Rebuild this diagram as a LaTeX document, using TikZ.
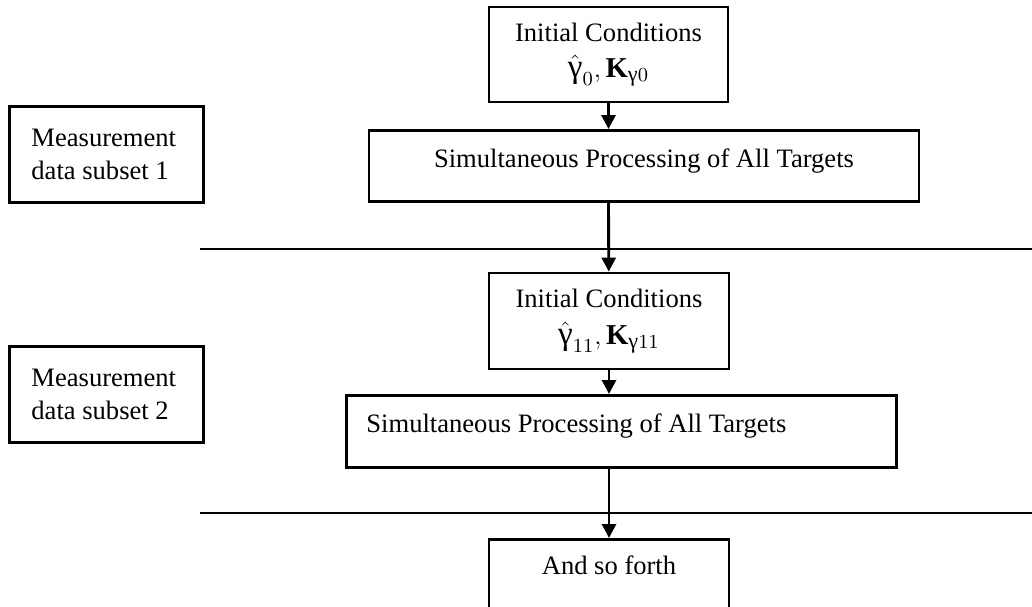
\documentclass[tikz,border=0pt]{standalone}
\usepackage{fontspec}
\setmainfont{Liberation Serif}
\usetikzlibrary{arrows.meta}

\newcommand\gam[1]{\mbox{\fontsize{#1}{#1}\selectfont γ}}

\tikzset{
  box/.style={draw, line width=1.3pt, inner sep=0pt, align=center},
  flow/.style={line width=1.3pt, -{Triangle[length=6.3pt,width=6.3pt]}},
  split/.style={line width=1.3pt}
}

\begin{document}
\begin{tikzpicture}[x=0.4515pt, y=-0.4515pt, font=\fontsize{12}{14.5}\selectfont]

  \newcommand\U{0.4515pt}

  \useasboundingbox (0,0) rectangle (1032,607);
  \clip (0,0) rectangle (1032,607);

  % measurement subsets on the left
  \node[box, minimum width=194*\U, minimum height=96*\U, align=flush left,
        text width=150*\U, inner xsep=22*\U, anchor=north west] (meas1) at (8,105)
        {Measurement\\data subset 1};
  \node[box, minimum width=193*\U, minimum height=96*\U, align=flush left,
        text width=150*\U, inner xsep=22*\U, anchor=north west] (meas2) at (8,345)
        {Measurement\\data subset 2};

  % first stage
  \node[box, minimum width=239*\U, minimum height=95*\U] (init1) at (608.5,54.5)
        {Initial Conditions\\[2pt]
         {\fontsize{13}{15}\selectfont$\hat{\gam{15}}_0,\mathbf{K}_{\gam{10}0}$}};
  \node[box, minimum width=550*\U, minimum height=71*\U] (proc1) at (644,166)
        {Simultaneous Processing of All Targets\\[-7.3pt]\mbox{}};

  % second stage
  \node[box, minimum width=240*\U, minimum height=96*\U] (init2) at (609,321)
        {Initial Conditions\\[2pt]
         {\fontsize{13}{15}\selectfont$\hat{\gam{15}}_{11},\mathbf{K}_{\gam{10}11}$}};
  \node[box, minimum width=550*\U, minimum height=72*\U, align=flush left,
        text width=510*\U, inner xsep=20*\U, anchor=north west] (proc2) at (345,394)
        {Simultaneous Processing of All Targets\\[-7.3pt]\mbox{}};

  % third stage, cut off below
  \node[box, minimum width=240*\U, minimum height=140*\U, anchor=north] (next) at (609,538)
        {};
  \node at (609,565) (nextlbl) {And so forth};

  % stage separators
  \coordinate (sepA) at (200,249);
  \coordinate (sepB) at (200,513);
  \draw[split] (sepA) -- (1032,249);
  \draw[split] (sepB) -- (1032,513);

  \draw[flow] (init1) -- (init1 |- proc1.north);
  \draw[flow] (init1 |- proc1.south) -- (init2);
  \draw[flow] (init2) -- (init2 |- proc2.north);
  \draw[flow] (init2 |- proc2.south) -- (next);

\end{tikzpicture}
\end{document}
